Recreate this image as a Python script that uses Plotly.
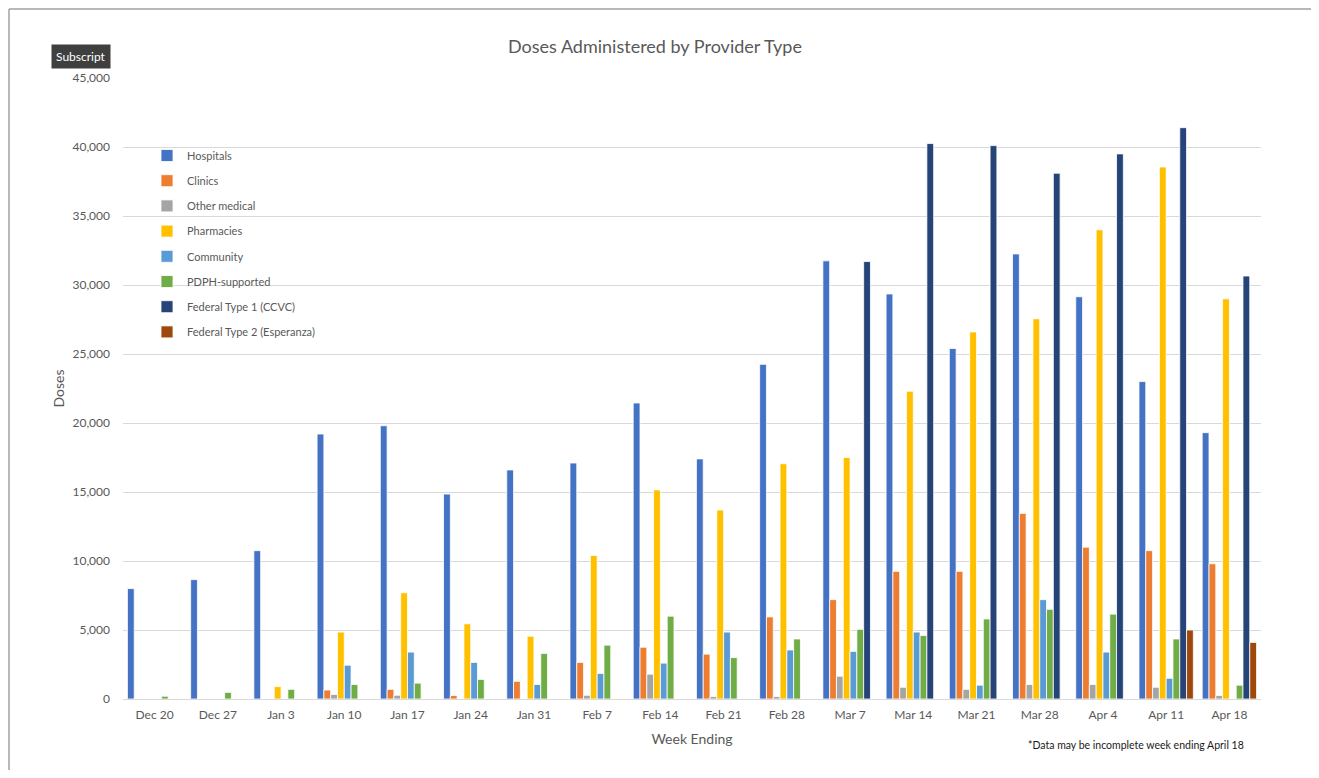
import plotly.graph_objects as go

weeks = ["Dec 20", "Dec 27", "Jan 3", "Jan 10", "Jan 17", "Jan 24", "Jan 31", "Feb 7", "Feb 14",
         "Feb 21", "Feb 28", "Mar 7", "Mar 14", "Mar 21", "Mar 28", "Apr 4", "Apr 11", "Apr 18"]

hospitals = [8000, 8650, 10750, 19200, 19800, 14850, 16600, 17100, 21450,
             17400, 24250, 31750, 29350, 25400, 32250, 29150, 23000, 19300]
clinics = [0, 0, 0, 650, 700, 250, 1280, 2650, 3750,
           3250, 5950, 7200, 9250, 9250, 13450, 11000, 10750, 9800]
other_medical = [0, 0, 0, 330, 270, 0, 0, 270, 1800,
                 180, 180, 1650, 850, 700, 1050, 1050, 850, 250]
pharmacies = [0, 0, 900, 4850, 7700, 5450, 4550, 10400, 15150,
              13700, 17050, 17500, 22300, 26600, 27550, 34000, 38550, 29000]
community = [0, 0, 0, 2450, 3400, 2650, 1050, 1850, 2600,
             4850, 3550, 3450, 4850, 1000, 7200, 3400, 1500, 0]
pdph = [200, 480, 700, 1050, 1150, 1420, 3300, 3900, 6000,
        3000, 4350, 5050, 4600, 5800, 6500, 6150, 4350, 1000]
federal1 = [0, 0, 0, 0, 0, 0, 0, 0, 0,
            0, 0, 31700, 40250, 40100, 38100, 39500, 41400, 30650]
federal2 = [0, 0, 0, 0, 0, 0, 0, 0, 0,
            0, 0, 0, 0, 0, 0, 0, 5000, 4100]

series = [
    ("Hospitals", hospitals, "#4472C4"),
    ("Clinics", clinics, "#ED7D31"),
    ("Other medical", other_medical, "#A5A5A5"),
    ("Pharmacies", pharmacies, "#FFC000"),
    ("Community", community, "#5B9BD5"),
    ("PDPH-supported", pdph, "#70AD47"),
    ("Federal Type 1 (CCVC)", federal1, "#264478"),
    ("Federal Type 2 (Esperanza)", federal2, "#9E480E"),
]

FONT = "Lato, 'Open Sans', sans-serif"
GRAY = "#595959"

OFF = 8  # the page body has an 8px margin on every side
W, H = 1319 - 2 * OFF, 778 - 2 * OFF
L, R, T, B = 123 - OFF, 1261 - OFF, 78 - OFF, 699 - OFF  # plot area in figure pixels
pw, ph = R - L, B - T


def px(x):
    """screen pixel x -> paper x"""
    return (x - OFF - L) / pw


def py(y):
    """screen pixel y -> paper y"""
    return (B - (y - OFF)) / ph


fig = go.Figure()
for name, vals, color in series:
    fig.add_trace(go.Bar(
        x=weeks, y=vals, name=name,
        marker=dict(color=color, line=dict(color="white", width=0.8)),
        legendgroup=name,
    ))

fig.update_layout(
    width=W, height=H,
    margin=dict(l=L, r=W - R, t=T, b=H - B, pad=0),
    paper_bgcolor="white", plot_bgcolor="white",
    barmode="group", bargap=0.14, bargroupgap=0,
    font=dict(family=FONT, color=GRAY, size=12),
    title=dict(text="Doses Administered by Provider Type", x=(655 - OFF) / W, xref="container",
               xanchor="center", y=1 - (47 - OFF) / H, yanchor="middle",
               font=dict(size=18, color=GRAY, family=FONT)),
    showlegend=True,
    legend=dict(x=px(147), y=py(141), xanchor="left", yanchor="top",
                bgcolor="rgba(255,255,255,0)", font=dict(size=11, color=GRAY, family=FONT),
                tracegroupgap=6.2, itemwidth=30),
    xaxis=dict(showgrid=False, showline=True, linecolor="#D9D9D9", linewidth=1,
               ticks="", ticklabelstandoff=5, tickfont=dict(size=12, color=GRAY),
               title=dict(text="Week Ending", font=dict(size=14, color=GRAY), standoff=12)),
    yaxis=dict(range=[0, 45000], dtick=5000, tickformat=",", showgrid=True,
               gridcolor="#D9D9D9", gridwidth=1, zeroline=False, ticks="",
               ticklabelstandoff=12, tickfont=dict(size=12, color=GRAY),
               title=dict(text="Doses", font=dict(size=14, color=GRAY), standoff=4)),
)

# outer frame: left and top edges of the screenshot frame
frame = dict(color="#A0A0A0", width=1.5)
fig.add_shape(type="line", xref="paper", yref="paper",
              x0=px(9), x1=px(9), y0=py(778 - OFF), y1=py(9), line=frame, layer="above")
fig.add_shape(type="line", xref="paper", yref="paper",
              x0=px(9), x1=px(1319 - OFF), y0=py(9), y1=py(9), line=frame, layer="above")

fig.add_annotation(text="Subscript", xref="paper", yref="paper",
                   x=px(80.5), y=py(56.5), xanchor="center", yanchor="middle",
                   showarrow=False, bgcolor="#3F3F3F", borderpad=4,
                   font=dict(size=12, color="white", family=FONT))

fig.add_annotation(text="*Data may be incomplete week ending April 18", xref="paper", yref="paper",
                   x=px(1246), y=py(745), xanchor="right", yanchor="middle",
                   showarrow=False, font=dict(size=10.5, color="#1a1a1a", family=FONT))

fig.write_html("out.html")
